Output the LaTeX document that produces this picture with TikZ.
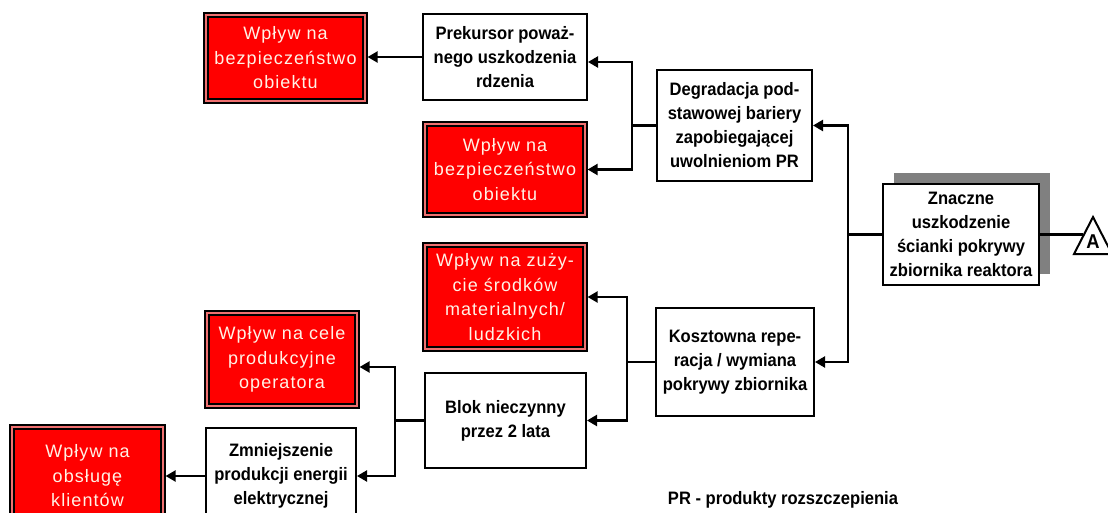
\documentclass[tikz,border=0pt]{standalone}
\usepackage{fontspec}
\setmainfont{Liberation Sans}
\newfontfamily\blkfont[FakeStretch=0.92]{Liberation Sans}
\newfontfamily\redfont[LetterSpace=6]{Liberation Sans}
\usetikzlibrary{arrows.meta,shadows}
\definecolor{boxred}{HTML}{FF0000}
\definecolor{rimred}{HTML}{F07070}
\definecolor{redtext}{HTML}{FFF2E6}
\definecolor{shadowgray}{HTML}{808080}
\tikzset{
  blackbox/.style={draw=black, line width=2pt, fill=white, align=center, inner sep=0pt,
    font=\blkfont\bfseries\fontsize{18}{24}\selectfont, text=black},
  redbox/.style={draw=black, line width=1.2pt, fill=rimred, align=center, inner sep=0pt,
    font=\redfont\fontsize{18}{24.5}\selectfont, text=redtext,
    path picture={\draw[line width=2.4pt, fill=boxred]
      ([shift={(3.8pt,3.8pt)}]path picture bounding box.south west) rectangle
      ([shift={(-3.8pt,-3.8pt)}]path picture bounding box.north east);}},
  wire/.style={line width=2.2pt, draw=black},
  arr/.style={wire, -{Triangle[length=10pt,width=11pt]}},
  notefont/.style={font=\blkfont\bfseries\fontsize{18}{24}\selectfont}
}
\begin{document}
\begin{tikzpicture}[x=1pt,y=-1pt]
\useasboundingbox (0,0) rectangle (1108,513);

% boxes
\node[redbox, minimum width=163pt, minimum height=90pt] (r1) at (285.5,58)
  {Wpływ na\\bezpieczeństwo\\obiektu};
\node[blackbox, minimum width=164pt, minimum height=86pt] (prek) at (505,57)
  {Prekursor poważ-\\nego uszkodzenia\\rdzenia};
\node[redbox, minimum width=164pt, minimum height=95pt] (r2) at (505,169.5)
  {Wpływ na\\bezpieczeństwo\\obiektu};
\node[blackbox, minimum width=155pt, minimum height=111pt] (deg) at (734.5,125.5)
  {Degradacja pod-\\stawowej bariery\\zapobiegającej\\uwolnieniom PR};
\node[blackbox, minimum width=156pt, minimum height=101pt,
  general shadow={shadow xshift=11pt, shadow yshift=11pt, fill=shadowgray, draw=none}] (zn) at (961,234.5)
  {Znaczne\\uszkodzenie\\ścianki pokrywy\\zbiornika reaktora};
\node[blackbox, minimum width=158pt, minimum height=108pt] (kosz) at (735,362)
  {Kosztowna repe-\\racja / wymiana\\pokrywy zbiornika};
\node[redbox, minimum width=164pt, minimum height=108pt] (r3) at (505,297)
  {Wpływ na zuży-\\cie środków\\materialnych/\\ludzkich};
\node[redbox, minimum width=154pt, minimum height=97pt] (r4) at (282,359.5)
  {Wpływ na cele\\produkcyjne\\operatora};
\node[blackbox, minimum width=161pt, minimum height=95pt] (blok) at (505.5,420.5)
  {Blok nieczynny\\przez 2 lata};
\node[blackbox, minimum width=150pt, minimum height=96pt] (zmn) at (281,476)
  {Zmniejszenie\\produkcji energii\\elektrycznej};
\node[redbox, minimum width=155pt, minimum height=102pt] (r5) at (87.5,476)
  {Wpływ na\\obsługę\\klientów};

% transfer triangle
\coordinate (tA) at (1074,254);
\coordinate (tB) at (1093,217);
\coordinate (tC) at (1112,254);
\draw[line width=2pt, fill=white, line join=miter] (tA) -- (tB) -- (tC) -- cycle;
\node[font=\blkfont\bfseries\fontsize{20}{22}\selectfont] (tlabel) at (1093,242) {A};
\coordinate (tleft) at (1083,235);

% trunk coordinates
\coordinate (t1) at (632,0);
\coordinate (t2) at (848,0);
\coordinate (t3) at (627,0);
\coordinate (t4) at (395,0);

% connectors
\draw[wire] (zn.east) -- (zn.east -| tleft);

\draw[wire] (zn.west) -- (zn.west -| t2);
\draw[arr] (zn.west -| t2) |- (deg.east);
\draw[arr] (zn.west -| t2) |- (kosz.east);

\draw[wire] (deg.west) -- (deg.west -| t1);
\draw[arr] (deg.west -| t1) |- ([yshift=-5pt]prek.east);
\draw[arr] (deg.west -| t1) |- (r2.east);

\draw[arr] (prek.west) -- (prek.west -| r1.east);

\draw[wire] (kosz.west) -- (kosz.west -| t3);
\draw[arr] (kosz.west -| t3) |- (r3.east);
\draw[arr] (kosz.west -| t3) |- (blok.east);

\draw[wire] (blok.west) -- (blok.west -| t4);
\draw[arr] (blok.west -| t4) |- ([yshift=-7.5pt]r4.east);
\draw[arr] (blok.west -| t4) |- (zmn.east);

\draw[arr] (zmn.west) -- (zmn.west -| r5.east);

\node[notefont] (note) at (783,500) {PR - produkty rozszczepienia};
\end{tikzpicture}
\end{document}
